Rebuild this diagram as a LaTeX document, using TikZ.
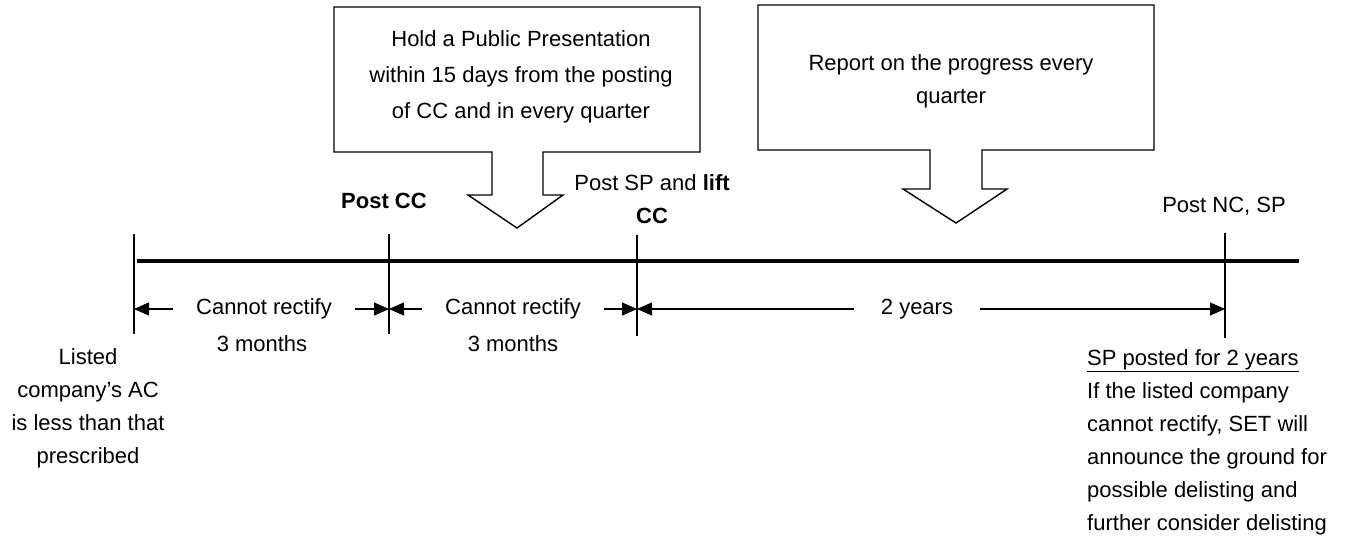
\documentclass[tikz,border=0pt]{standalone}
\usepackage{fontspec}
\setmainfont{Liberation Sans}
\usetikzlibrary{arrows.meta}
\begin{document}
\begin{tikzpicture}[x=1pt,y=-1pt,
  txt/.style={font=\fontsize{22}{33}\selectfont, inner sep=0pt, align=center},
  dimlabel/.style={txt, inner xsep=23pt},
  tickline/.style={line width=1.4pt},
  mainline/.style={line width=4.5pt},
  dimarrow/.style={line width=1.2pt, -{Triangle[length=15pt,width=13pt]}},
  callout/.style={line width=1.4pt, fill=white, line join=miter}
]
\useasboundingbox (0,0) rectangle (1347,558);

% main time line
\coordinate (ms) at (137,261);
\coordinate (me) at (1299,261);
\draw[mainline] (ms) -- (me);

% ticks
\coordinate (t1a) at (134,234); \coordinate (t1b) at (134,334);
\coordinate (t2a) at (389,234); \coordinate (t2b) at (389,334);
\coordinate (t3a) at (637,235); \coordinate (t3b) at (637,336);
\coordinate (t4a) at (1225,233); \coordinate (t4b) at (1225,338);
\draw[tickline] (t1a) -- (t1b);
\draw[tickline] (t2a) -- (t2b);
\draw[tickline] (t3a) -- (t3b);
\draw[tickline] (t4a) -- (t4b);

% dimension arrows
\coordinate (d1) at (134,309);
\coordinate (d2) at (389,309);
\coordinate (d3) at (637,309);
\coordinate (d4) at (1225,309);
\node[dimlabel] (c1) at (264,309) {Cannot rectify};
\node[dimlabel] (c2) at (513,309) {Cannot rectify};
\node[dimlabel, inner xsep=27pt] (c3) at (917,309) {2 years};
\draw[dimarrow] (c1.west) -- (d1);
\draw[dimarrow] (c1.east) -- (d2);
\draw[dimarrow] (c2.west) -- (d2);
\draw[dimarrow] (c2.east) -- (d3);
\draw[dimarrow] (c3.west) -- (d3);
\draw[dimarrow] (c3.east) -- (d4);
\node[txt] (m1) at (262,344) {3 months};
\node[txt] (m2) at (513,344) {3 months};

% labels at ticks
\node[txt] (pcc) at (384,201) {\bfseries Post CC};
\node[txt] (psp) at (652,199) {Post SP and \textbf{lift}\\\textbf{CC}};
\node[txt] (pnc) at (1224,206) {Post NC, SP};

% left and right texts
\node[txt] (start) at (88,408) {Listed\\company’s AC\\is less than that\\prescribed};
\node[txt, align=left, anchor=west] (end) at (1087,442)
  {\underline{SP posted for 2 years}\\If the listed company\\cannot rectify, SET will\\announce the ground for\\possible delisting and\\further consider delisting};

% callout 1
\draw[callout] (334,7) -- (700,7) -- (700,152) -- (543,152) -- (543,195) -- (563,195)
  -- (517,228) -- (468,195) -- (492,195) -- (492,152) -- (334,152) -- cycle;
\node[txt, font=\fontsize{22}{36}\selectfont] (co1) at (521,77) {Hold a Public Presentation\\within 15 days from the posting\\of CC and in every quarter};

% callout 2
\draw[callout] (758,5) -- (1154,5) -- (1154,150) -- (982,150) -- (982,189) -- (1007,189)
  -- (956,223) -- (903,189) -- (930,189) -- (930,150) -- (758,150) -- cycle;
\node[txt] (co2) at (951,81) {Report on the progress every\\quarter};
\end{tikzpicture}
\end{document}
